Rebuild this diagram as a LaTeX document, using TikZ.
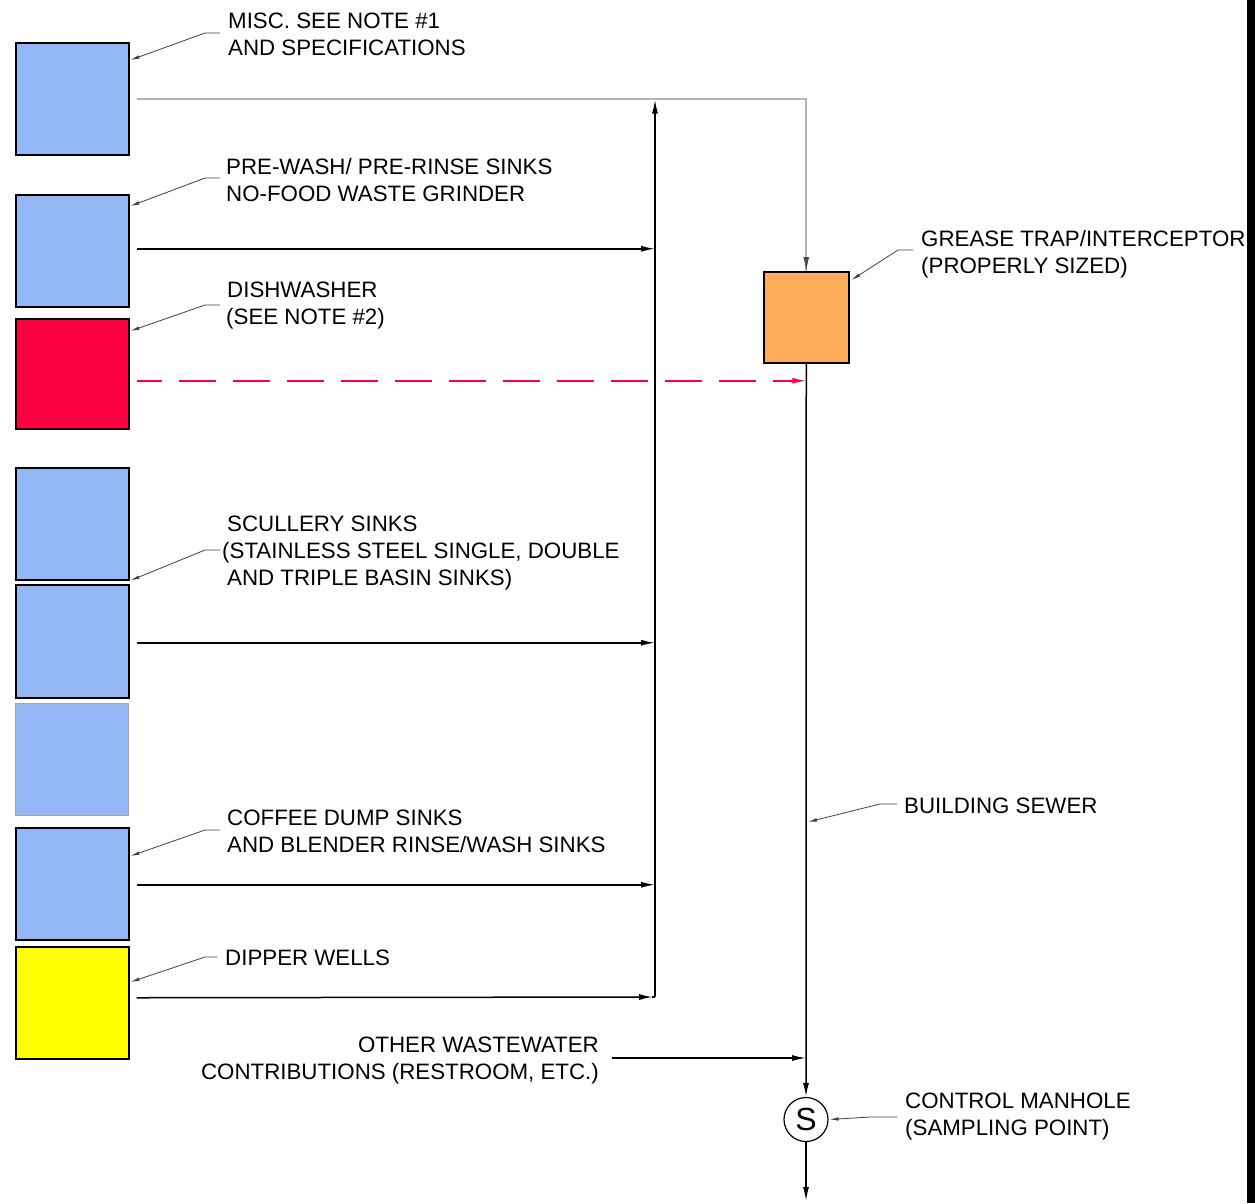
\documentclass[tikz,border=0pt]{standalone}
\usepackage{fontspec}
\setmainfont{Liberation Sans}
\usetikzlibrary{arrows.meta,calc}
\definecolor{sinkblue}{HTML}{94B8F5}
\definecolor{dishred}{HTML}{FF0040}
\definecolor{traporange}{HTML}{FFAD5C}
\definecolor{dipyellow}{HTML}{FFFF00}
\definecolor{pipegray}{HTML}{B4B4B4}
\definecolor{leadgray}{HTML}{404040}
\begin{document}
\begin{tikzpicture}[x=1pt,y=-1pt,
  fixture/.style={draw=black,line width=1.5pt,minimum width=113pt,inner sep=0pt,anchor=north west},
  flow/.style={draw=black,line width=1.5pt,-{Latex[length=14pt,width=6pt]}},
  pipeline/.style={draw=pipegray,line width=1.8pt},
  leader/.style={draw=leadgray,line width=0.8pt,-{Latex[length=9pt,width=3.5pt]}},
  lbl/.style={font=\fontsize{22.3}{27}\selectfont,inner sep=0pt,align=left,anchor=base west},
  rlbl/.style={font=\fontsize{22.3}{27}\selectfont,inner sep=0pt,align=right,anchor=base east}]
\useasboundingbox (0,0) rectangle (1255,1203);
\fill[white] (0,0) rectangle (1255,1203);
\fill[black] (1247,0) rectangle (1255,1203);

% fixtures
\node[fixture,fill=sinkblue,minimum height=112pt] (b1) at (15,42) {};
\node[fixture,fill=sinkblue,minimum height=112pt] (b2) at (15,194) {};
\node[fixture,fill=dishred,minimum height=110pt] (b3) at (15,318) {};
\node[fixture,fill=sinkblue,minimum height=112pt] (b4) at (15,467) {};
\node[fixture,fill=sinkblue,minimum height=113pt] (b5) at (15,584) {};
\node[fixture,fill=sinkblue,minimum height=112pt,draw=black!35,line width=0.6pt] (b6) at (15,703) {};
\node[fixture,fill=sinkblue,minimum height=112pt] (b7) at (15,827) {};
\node[fixture,fill=dipyellow,minimum height=112pt] (b8) at (15,946) {};

% grease trap and manhole
\node[draw=black,line width=1.5pt,fill=traporange,minimum width=85pt,minimum height=91pt,inner sep=0pt,anchor=north west] (trap) at (763,271) {};
\node[draw=black,line width=1.2pt,circle,minimum size=44pt,inner sep=0pt,font=\fontsize{32}{32}\selectfont] (S) at (806,1119.5) {S};

% collector
\coordinate (colTop) at (655,99.5);
\coordinate (colBot) at (655,997);
\coordinate (outlet) at (806,1201);

% top gray pipe
\draw[pipeline] ([xshift=7pt]b1.east) -- (b1.east -| trap.north) -- (trap.north);
\draw[draw=black!70,line width=1pt,-{Latex[length=14pt,width=6pt]}] ([yshift=14pt]trap.north) -- (trap.north);

% branch lines to collector
\draw[flow] ([xshift=7pt,yshift=2pt]b2.east) coordinate (d2) -- (d2 -| colTop);
\draw[flow] ([xshift=7pt,yshift=-1.5pt]b5.east) coordinate (d5) -- (d5 -| colTop);
\draw[flow] ([xshift=7pt,yshift=-1pt]b7.east) coordinate (d7) -- (d7 -| colTop);
\draw[flow] ([xshift=7pt,yshift=5pt]b8.east) coordinate (d8) -- ([xshift=-2pt]colBot);
\draw[line width=1.5pt] ([xshift=-3pt]colBot) -- (colBot);
\draw[flow] (colBot) -- (colTop);

% dishwasher dashed line
\draw[draw=dishred,line width=1.5pt,dash pattern=on 37pt off 17pt,dash phase=12pt,-{Latex[length=14pt,width=6pt]}]
  ([xshift=7pt,yshift=-7pt]b3.east) coordinate (d3) -- (d3 -| trap.south);

% building sewer
\draw[flow] (trap.south) -- (S.north);
\draw[flow] (S.south) -- (outlet);

% other wastewater
\node[rlbl] (ow) at (599,1079) {OTHER WASTEWATER\\CONTRIBUTIONS (RESTROOM, ETC.)};
\coordinate (owS) at (612,1058);
\draw[flow] (owS) -- (owS -| S.north);

% labels (base anchor = baseline of last line)
\node[lbl] (l1) at (228,55) {MISC. SEE NOTE \#1\\AND SPECIFICATIONS};
\node[lbl] (l2) at (226,201) {PRE-WASH/ PRE-RINSE SINKS\\NO-FOOD WASTE GRINDER};
\node[lbl] (l3) at (227,324) {DISHWASHER\\\hspace*{-1pt}(SEE NOTE \#2)};
\node[lbl] (l4) at (227,585) {SCULLERY SINKS\\\hspace*{-5pt}(STAINLESS STEEL SINGLE, DOUBLE\\AND TRIPLE BASIN SINKS)};
\node[lbl] (l5) at (227,852) {COFFEE DUMP SINKS\\AND BLENDER RINSE/WASH SINKS};
\node[lbl] (l6) at (225,965) {DIPPER WELLS};
\node[lbl] (l7) at (921,273) {GREASE TRAP/INTERCEPTOR\\(PROPERLY SIZED)};
\node[lbl] (l8) at (904,813) {BUILDING SEWER};
\node[lbl] (l9) at (905,1135) {CONTROL MANHOLE\\(SAMPLING POINT)};

% leaders
\coordinate (s1) at (220,33);
\coordinate (s2) at (220,178);
\coordinate (s3) at (220,305);
\coordinate (s4) at (220,550);
\coordinate (s5) at (220,830);
\coordinate (s6) at (217,957);
\coordinate (s7) at (913,250);
\coordinate (s8) at (897,804);
\coordinate (s9) at (897,1117);
\coordinate (sewerT) at (808,822);
\draw[leader] (s1) -- ++(-15,0) -- ([yshift=-18pt,xshift=1pt]b1.north east);
\draw[leader] (s2) -- ++(-15,0) -- ([yshift=-12pt,xshift=1pt]b2.north east);
\draw[leader] (s3) -- ++(-15,0) -- ([yshift=-13pt,xshift=1pt]b3.north east);
\draw[leader] (s4) -- ++(-15,0) -- ([xshift=1pt]b4.south east);
\draw[leader] (s5) -- ++(-15,0) -- ([yshift=-29pt,xshift=1pt]b7.north east);
\draw[leader] (s6) -- ++(-12,0) -- ([yshift=-36pt,xshift=1pt]b8.north east);
\draw[leader] (s7) -- ++(-15,0) -- ([yshift=-9pt,xshift=2pt]trap.north east);
\draw[leader] (s8) -- ++(-17,0) -- (sewerT);
\draw[leader] (s9) -- ++(-27,0) -- ([xshift=1pt]S.east);
\end{tikzpicture}
\end{document}
